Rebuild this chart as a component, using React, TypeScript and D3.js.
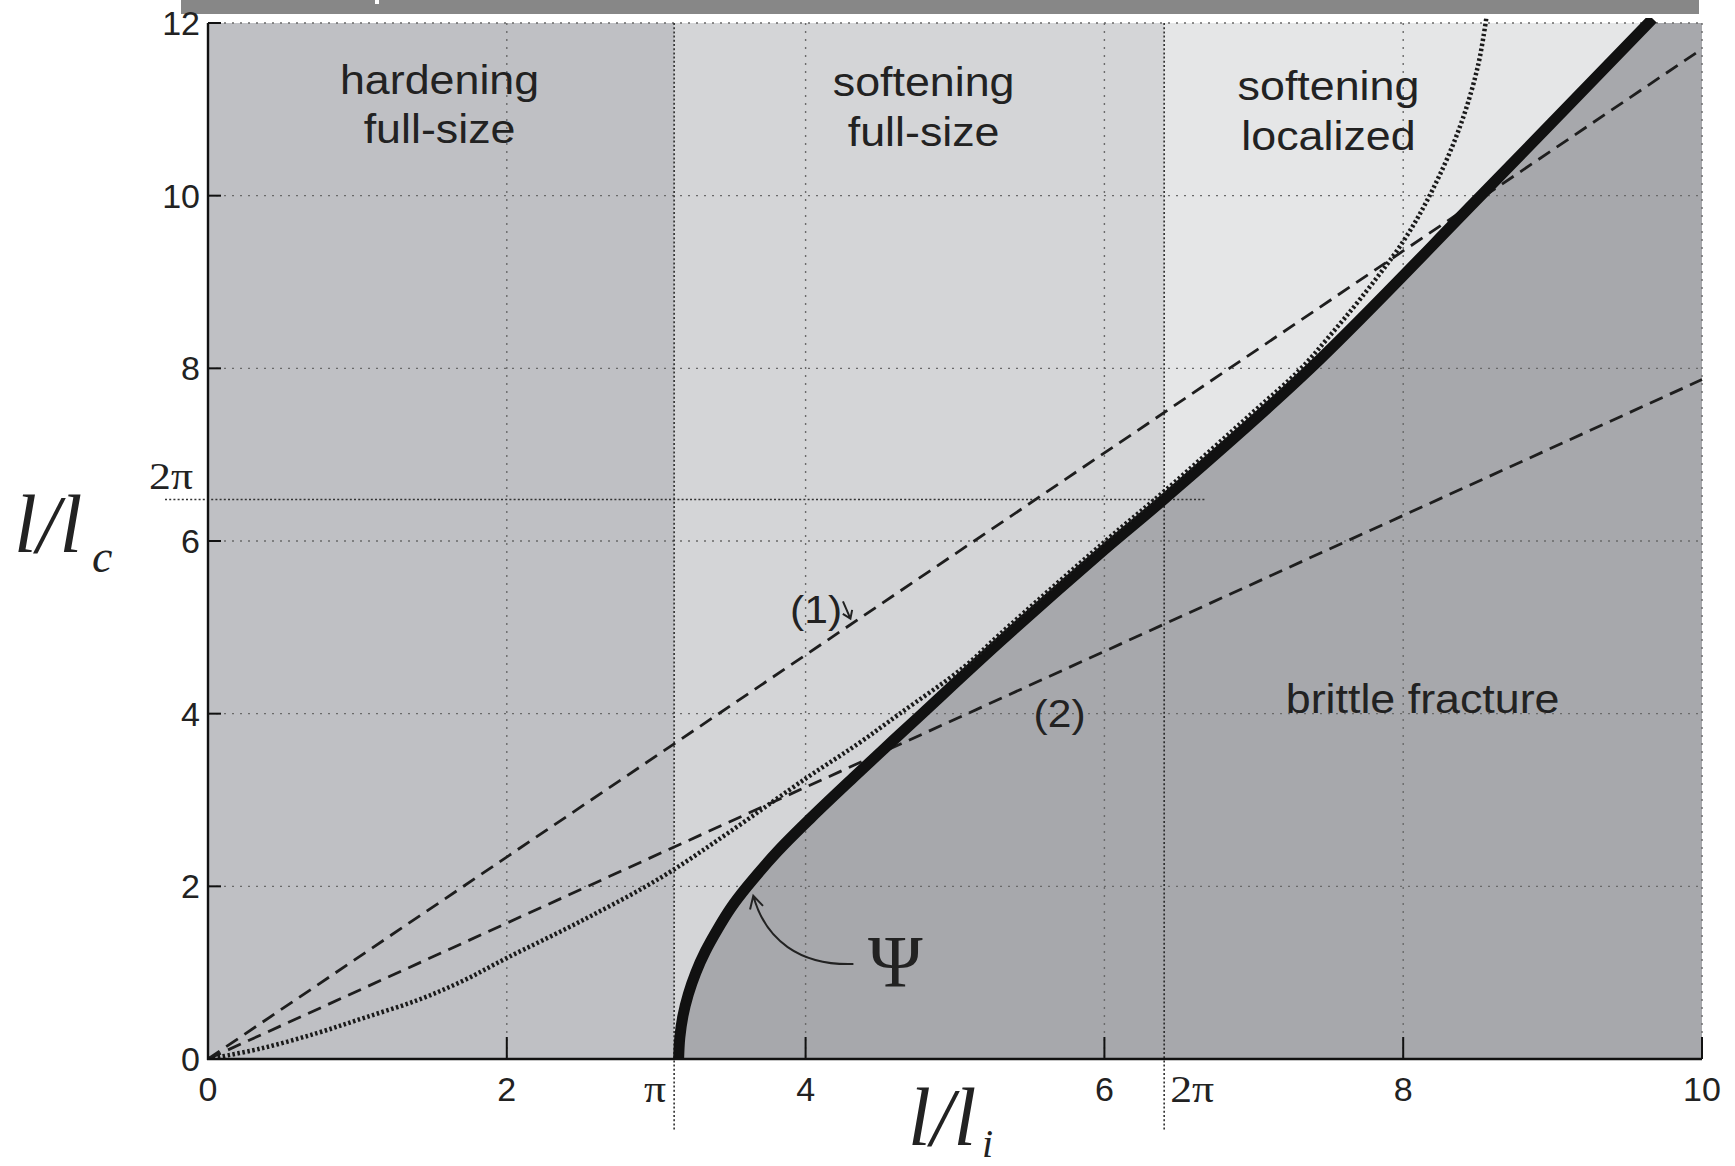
import React from 'react'
import * as d3 from 'd3'

// Stability map: l/l_i vs l/l_c with hardening / softening / brittle regions

const W = 1735
const H = 1166
const SANS = '"Liberation Sans", Arial, sans-serif'
const SERIF = '"Liberation Serif", "Times New Roman", serif'

const xTicks = [0, 2, 4, 6, 8, 10]
const yTicks = [0, 2, 4, 6, 8, 10, 12]
const xGrid = [2, 4, 6, 8, 10]
const yGrid = [2, 4, 6, 8, 10, 12]

// reference lines labelled π and 2π
const piX = 3.12
const twoPiX = 6.4
const twoPiY = 6.48

// Ψ : boundary of brittle fracture
const psiCurve: [number, number][] = [
  [3.15, 0], [3.158, 0.25], [3.179, 0.5], [3.215, 0.75], [3.265, 1.0], [3.33, 1.25],
  [3.41, 1.5], [3.5, 1.75], [3.61, 2.0], [3.81, 2.4], [4.04, 2.8], [4.32, 3.26],
  [4.53, 3.6], [4.78, 4.0], [5.3, 4.83], [6.0, 5.9], [6.41, 6.5], [7.38, 8.0],
  [8.52, 10.0], [9.67, 12.05],
]

// dotted curve
const dottedCurve: [number, number][] = [
  [0, 0], [0.35, 0.12], [0.73, 0.3], [1.05, 0.48], [1.4, 0.68], [1.7, 0.9],
  [2.0, 1.17], [2.5, 1.6], [3.03, 2.1], [3.5, 2.64], [4.01, 3.26], [4.35, 3.65],
  [4.63, 4.0], [5.06, 4.54], [5.3, 4.92], [6.0, 5.99], [6.41, 6.59], [7.0, 7.5],
  [7.3, 7.97], [7.5, 8.36], [7.72, 8.82], [8.0, 9.47], [8.2, 10.08], [8.38, 10.8],
  [8.5, 11.5], [8.56, 12.1],
]

// dashed approximations (1) and (2)
const dashed1: [number, number][] = [[0, 0], [10, 11.7]]
const dashed2: [number, number][] = [[0, 0], [10, 7.87]]

const regionNames = [
  ['hardening', 'full-size'],
  ['softening', 'full-size'],
  ['softening', 'localized'],
]
const regionX = [1.55, 4.79, 7.5]
const regionY = [
  [11.18, 10.61],
  [11.16, 10.57],
  [11.11, 10.53],
]

const fills = {
  hardening: '#bfc0c4',
  softFull: '#d4d5d7',
  softLocal: '#e5e6e7',
  brittle: '#a7a8ac',
}

const x = d3.scaleLinear().domain([0, 10]).range([208, 1702])
const y = d3.scaleLinear().domain([0, 12]).range([1059, 23])

const TXT = '#222'

function SText(props: {
  px: number
  py: number
  size: number
  text: string
  sx?: number
  anchor?: string
  family?: string
  italic?: boolean
  baseline?: string
}) {
  const { px, py, size, text, sx = 1.12, anchor = 'middle', family = SANS, italic = false, baseline } = props
  return (
    <text
      transform={`translate(${px},${py}) scale(${sx},1)`}
      fontSize={size}
      fontFamily={family}
      fontStyle={italic ? 'italic' : 'normal'}
      textAnchor={anchor}
      dominantBaseline={baseline}
      fill={TXT}
    >
      {text}
    </text>
  )
}

function arrowHead(tip: [number, number], from: [number, number], len = 14, ang = 0.45) {
  const a = Math.atan2(from[1] - tip[1], from[0] - tip[0])
  const p1 = [tip[0] + len * Math.cos(a + ang), tip[1] + len * Math.sin(a + ang)]
  const p2 = [tip[0] + len * Math.cos(a - ang), tip[1] + len * Math.sin(a - ang)]
  return `M${p1[0]},${p1[1]}L${tip[0]},${tip[1]}L${p2[0]},${p2[1]}`
}

export default function App() {
  const smooth = d3
    .line<[number, number]>()
    .x((d) => x(d[0]))
    .y((d) => y(d[1]))
    .curve(d3.curveCatmullRom.alpha(0.5))
  const straight = d3
    .line<[number, number]>()
    .x((d) => x(d[0]))
    .y((d) => y(d[1]))

  const psiPath = smooth(psiCurve) as string
  const brittleArea = psiPath + `L${x(10)},${y(12.05)}L${x(10)},${y(0)}Z`

  const top = y(12)
  const bottom = y(0)

  // Ψ annotation arrow (data coordinates)
  const a0: [number, number] = [x(4.32), y(1.1)]
  const a1: [number, number] = [x(3.96), y(1.08)]
  const a2: [number, number] = [x(3.73), y(1.38)]
  const a3: [number, number] = [x(3.65), y(1.89)]

  // (1) hook tip
  const h0: [number, number] = [x(4.25), y(5.3)]
  const h1: [number, number] = [x(4.3), y(5.1)]

  return (
    <svg
      width={W}
      height={H}
      viewBox={`0 0 ${W} ${H}`}
      style={{ position: 'absolute', left: 0, top: 0, background: '#fff' }}
    >
      <defs>
        <clipPath id="plot">
          <rect x={x(0)} y={top} width={x(10) - x(0) + 1} height={bottom - top} />
        </clipPath>
        <clipPath id="plotTop">
          <rect x={x(0)} y={top - 5} width={x(10) - x(0) + 1} height={bottom - top + 5} />
        </clipPath>
      </defs>

      {/* cropped title bar */}
      <rect x={181} y={0} width={1518} height={14} fill="#878787" />
      <rect x={375} y={0} width={4} height={4} fill="#fff" />

      {/* regions */}
      <rect x={x(0)} y={top} width={x(piX) - x(0)} height={bottom - top} fill={fills.hardening} />
      <rect x={x(piX)} y={top} width={x(twoPiX) - x(piX)} height={bottom - top} fill={fills.softFull} />
      <rect x={x(twoPiX)} y={top} width={x(10) - x(twoPiX)} height={bottom - top} fill={fills.softLocal} />
      <path d={brittleArea} fill={fills.brittle} clipPath="url(#plot)" />

      {/* grid */}
      {xGrid.map((v) => (
        <line key={'gx' + v} x1={x(v)} x2={x(v)} y1={top} y2={bottom} stroke="#6a6a6a" strokeWidth={1.4} strokeDasharray="2,6" />
      ))}
      {yGrid.map((v) => (
        <line key={'gy' + v} x1={x(0)} x2={x(10)} y1={y(v)} y2={y(v)} stroke="#6a6a6a" strokeWidth={1.4} strokeDasharray="2,6" />
      ))}

      {/* π and 2π reference lines */}
      <line x1={x(piX)} x2={x(piX)} y1={top} y2={1130} stroke="#222" strokeWidth={1.5} strokeDasharray="2,2.2" />
      <line x1={x(twoPiX)} x2={x(twoPiX)} y1={top} y2={1130} stroke="#222" strokeWidth={1.5} strokeDasharray="2,2.2" />
      <line x1={165} x2={x(twoPiX) + 42} y1={y(twoPiY)} y2={y(twoPiY)} stroke="#333" strokeWidth={1.5} strokeDasharray="2,2.2" />

      {/* curves */}
      <g clipPath="url(#plotTop)" fill="none">
        <path d={straight(dashed1) as string} stroke="#1e1e1e" strokeWidth={2.8} strokeDasharray="14,8" />
        <path d={straight(dashed2) as string} stroke="#1e1e1e" strokeWidth={2.8} strokeDasharray="14,8" />
        <path d={psiPath} stroke="#111" strokeWidth={11} />
        <path d={smooth(dottedCurve) as string} stroke="#1a1a1a" strokeWidth={4.5} strokeDasharray="2.5,2.5" />
      </g>

      {/* axes */}
      <line x1={x(0)} x2={x(0)} y1={top} y2={bottom + 1} stroke="#111" strokeWidth={2.4} />
      <line x1={x(0) - 1} x2={x(10)} y1={bottom} y2={bottom} stroke="#111" strokeWidth={2.4} />
      {xTicks.map((v) => (
        <line key={'tx' + v} x1={x(v)} x2={x(v)} y1={bottom} y2={bottom - 22} stroke="#111" strokeWidth={2} />
      ))}
      {yTicks.map((v) => (
        <line key={'ty' + v} x1={x(0)} x2={x(0) + 13} y1={y(v)} y2={y(v)} stroke="#111" strokeWidth={2} />
      ))}

      {/* tick labels */}
      {xTicks.map((v) => (
        <text key={'lx' + v} x={x(v)} y={1101} fontSize={34} fontFamily={SANS} textAnchor="middle" fill={TXT}>
          {v}
        </text>
      ))}
      {yTicks.map((v) => (
        <text key={'ly' + v} x={x(0) - 8} y={y(v)} fontSize={34} fontFamily={SANS} textAnchor="end" dominantBaseline="central" fill={TXT}>
          {v}
        </text>
      ))}
      <SText px={x(piX) - 8} py={1102} size={38} text="π" anchor="end" family={SERIF} sx={1.15} />
      <SText px={x(twoPiX) + 6} py={1102} size={38} text="2π" anchor="start" family={SERIF} sx={1.15} />
      <SText px={193} py={y(twoPiY) - 11} size={38} text="2π" anchor="end" family={SERIF} sx={1.15} />

      {/* axis titles */}
      <text x={14} y={552} fontSize={82} fontFamily={SERIF} fontStyle="italic" fill={TXT}>l/l</text>
      <text x={92} y={572} fontSize={46} fontFamily={SERIF} fontStyle="italic" fill={TXT}>c</text>
      <text x={908} y={1145} fontSize={82} fontFamily={SERIF} fontStyle="italic" fill={TXT}>l/l</text>
      <text x={982} y={1157} fontSize={40} fontFamily={SERIF} fontStyle="italic" fill={TXT}>i</text>

      {/* region labels */}
      {regionNames.map((lines, i) =>
        lines.map((t, j) => (
          <SText key={'r' + i + j} px={x(regionX[i])} py={y(regionY[i][j])} size={40} text={t} />
        ))
      )}
      <SText px={x(8.13)} py={y(4.01)} size={40} text="brittle fracture" />
      <SText px={x(4.07)} py={y(5.05)} size={38} text="(1)" />
      <path d={`M${h0[0]},${h0[1]}L${h1[0]},${h1[1]}` + arrowHead(h1, h0, 9, 0.6)} stroke={TXT} strokeWidth={2} fill="none" />
      <SText px={x(5.7)} py={y(3.84)} size={38} text="(2)" />

      {/* Ψ label and arrow */}
      <SText px={x(4.6)} py={y(0.83)} size={74} text="Ψ" family={SERIF} sx={1} />
      <path
        d={`M${a0[0]},${a0[1]}C${a1[0]},${a1[1]} ${a2[0]},${a2[1]} ${a3[0]},${a3[1]}` + arrowHead(a3, a2, 14, 0.5)}
        stroke="#222"
        strokeWidth={2}
        fill="none"
      />
    </svg>
  )
}
